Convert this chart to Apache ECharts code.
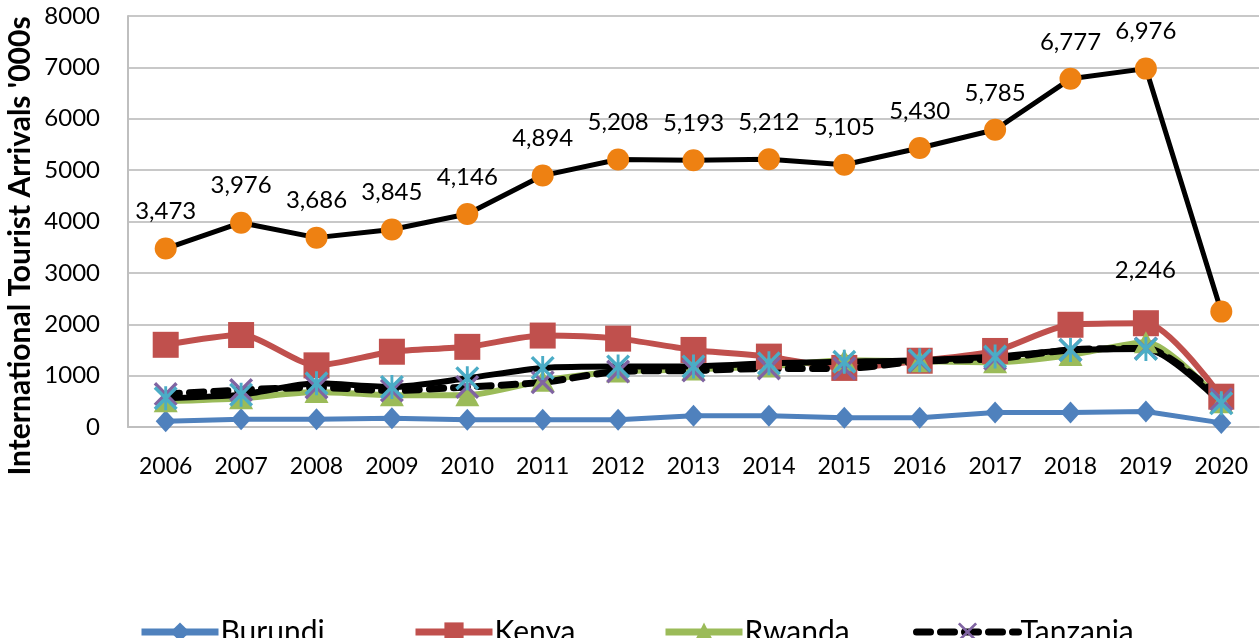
<!DOCTYPE html>
<html>
<head>
<meta charset="utf-8">
<script src="https://cdn.jsdelivr.net/npm/echarts@6/dist/echarts.min.js"></script>
<style>
  html, body { margin: 0; padding: 0; background: #fff; }
  #main { width: 1260px; height: 638px; }
</style>
</head>
<body>
<div id="main"></div>
<script>
// years on the x axis
var years = ['2006', '2007', '2008', '2009', '2010', '2011', '2012', '2013', '2014', '2015', '2016', '2017', '2018', '2019', '2020'];

// arrivals in '000s
var burundi  = [110, 150, 150, 170, 140, 140, 140, 220, 220, 180, 180, 280, 280, 300, 80];
var kenya    = [1600, 1790, 1200, 1465, 1560, 1780, 1720, 1500, 1370, 1150, 1290, 1480, 1990, 2020, 590];
var rwanda   = [500, 560, 680, 620, 620, 900, 1080, 1120, 1180, 1300, 1280, 1260, 1400, 1650, 480];
var tanzania = [640, 720, 770, 710, 780, 870, 1080, 1100, 1140, 1140, 1280, 1330, 1500, 1530, 540];
var uganda   = [560, 630, 850, 780, 950, 1150, 1180, 1180, 1240, 1270, 1300, 1370, 1500, 1520, 460];
var total    = [3473, 3976, 3686, 3845, 4146, 4894, 5208, 5193, 5212, 5105, 5430, 5785, 6777, 6976, 2246];

var FONT = 'Lato, "Liberation Sans", sans-serif';
var xMark = 'path://M0,1L1,0L5,4L9,0L10,1L6,5L10,9L9,10L5,6L1,10L0,9L4,5Z';
var starMark = 'path://M0,1L1,0L5,4L9,0L10,1L6,5L10,9L9,10L5,6L1,10L0,9L4,5Z M4.4,0L5.6,0L5.6,10L4.4,10Z';

var myChart = echarts.init(document.getElementById('main'));

function legendAt(name, x, w) {
  return {
    data: [name],
    left: x,
    top: 612,
    itemWidth: w || 77,
    itemHeight: 24,
    itemGap: 0,
    lineStyle: { width: 7 },
    textStyle: { fontFamily: FONT, fontSize: 30, color: '#000', padding: [0, 0, 12, -3] }
  };
}

var option = {
  backgroundColor: '#fff',
  animation: false,
  grid: { left: 128, right: 1, top: 16, bottom: 211 },
  legend: [
    legendAt('Burundi', 133),
    legendAt('Kenya', 407),
    legendAt('Rwanda', 657),
    legendAt('Tanzania', 908, 102)
  ],
  graphic: [{
    type: 'text',
    x: 20,
    y: 246,
    rotation: Math.PI / 2,
    style: {
      text: "International Tourist Arrivals '000s",
      font: 'bold 30px ' + FONT,
      fill: '#000',
      align: 'center',
      verticalAlign: 'middle'
    }
  }],
  xAxis: {
    type: 'category',
    data: years,
    boundaryGap: true,
    axisTick: { show: false },
    axisLine: { lineStyle: { color: '#bfbfbf', width: 2 } },
    axisLabel: { fontFamily: FONT, fontSize: 23, color: '#000', margin: 28 }
  },
  yAxis: {
    type: 'value',
    min: 0,
    max: 8000,
    interval: 1000,
    axisLine: { show: true, lineStyle: { color: '#bfbfbf', width: 2 } },
    axisTick: { show: false },
    splitLine: { lineStyle: { color: '#c8c8c8', width: 2 } },
    axisLabel: {
      fontFamily: FONT, fontSize: 24, color: '#000', margin: 28,
      formatter: function (v) { return String(v); }
    }
  },
  series: [
    {
      name: 'Burundi', type: 'line', data: burundi,
      symbol: 'diamond', symbolSize: [20, 22],
      itemStyle: { color: '#4F81BD' },
      lineStyle: { color: '#4F81BD', width: 5 }
    },
    {
      name: 'Kenya', type: 'line', data: kenya, smooth: 0.25,
      symbol: 'rect', symbolSize: 26,
      itemStyle: { color: '#C0504D' },
      lineStyle: { color: '#C0504D', width: 6 }
    },
    {
      name: 'Rwanda', type: 'line', data: rwanda, smooth: 0.25,
      symbol: 'triangle', symbolSize: [24, 22],
      itemStyle: { color: '#9BBB59' },
      lineStyle: { color: '#9BBB59', width: 6 }
    },
    {
      name: 'Tanzania', type: 'line', data: tanzania, smooth: 0.25,
      symbol: xMark, symbolSize: 24,
      itemStyle: { color: '#8064A2' },
      lineStyle: { color: '#000', width: 7, type: [14, 10], cap: 'round' }
    },
    {
      name: 'Uganda', type: 'line', data: uganda, smooth: 0.25,
      symbol: starMark, symbolSize: 24,
      itemStyle: { color: '#4BACC6' },
      lineStyle: { color: '#000', width: 6 }
    },
    {
      name: 'EAC', type: 'line', data: total,
      symbol: 'circle', symbolSize: 22,
      itemStyle: { color: '#EE8112' },
      lineStyle: { color: '#000', width: 5 },
      label: {
        show: true,
        position: 'top',
        distance: 14,
        fontFamily: FONT,
        fontSize: 24,
        color: '#000',
        formatter: function (p) { return echarts.format.addCommas(p.value); }
      },
      labelLayout: function (params) {
        if (params.dataIndex === total.length - 1) {
          return { dx: -76, dy: -4 };
        }
        return {};
      }
    }
  ]
};

myChart.setOption(option);
</script>
</body>
</html>
